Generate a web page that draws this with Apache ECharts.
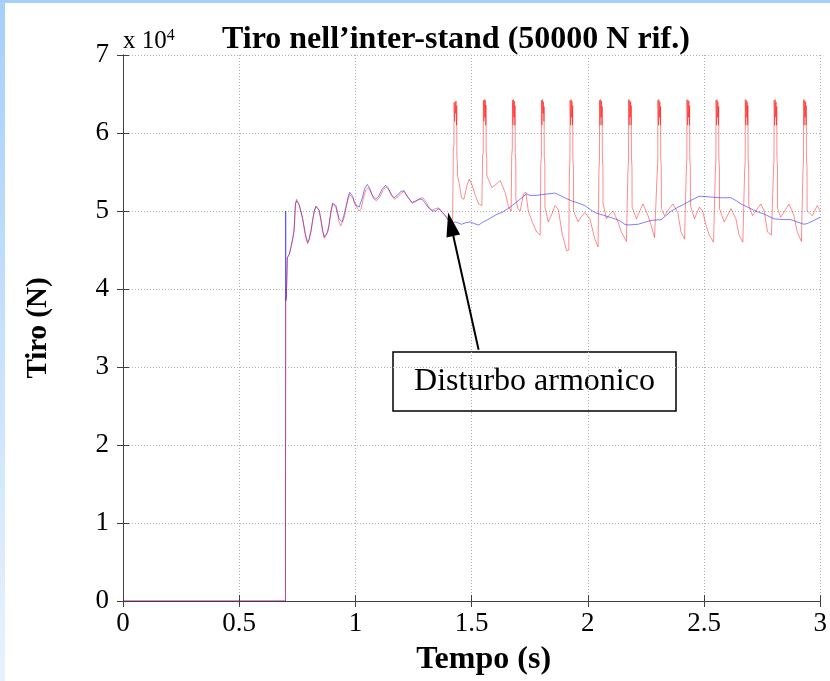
<!DOCTYPE html>
<html>
<head>
<meta charset="utf-8">
<script src="https://cdn.jsdelivr.net/npm/echarts@6/dist/echarts.min.js"></script>
<style>
html,body{margin:0;padding:0;background:#fff;}
#chart{width:830px;height:681px;}
</style>
</head>
<body>
<div id="chart"></div>
<script>
// ---- Data (time in s, tension in N) ----
const titolo = "Tiro nell\u2019inter-stand (50000 N rif.)";
const xTicks = [0, 0.5, 1, 1.5, 2, 2.5, 3];
const yTicks = [0, 10000, 20000, 30000, 40000, 50000, 60000, 70000];
const annotazione = "Disturbo armonico";
const frecciaDa = [1.530, 32200];   // arrow tail (t, N)
const frecciaA = [1.410, 48300];    // arrow tip (t, N)

// blue trace (reference, no disturbance)
const serieBlu = [
[0,0],[0.699,0],[0.700,50000],[0.7005,38500],[0.703,39000],[0.707,44000],[0.716,44500],[0.723,45400],[0.730,46400],[0.736,47500],[0.742,50900],[0.747,51300],[0.752,51300],[0.758,50800],[0.765,50000],[0.773,49000],[0.784,47100],[0.794,46000],[0.800,46300],[0.809,47500],[0.816,48800],[0.823,50000],[0.830,50600],[0.837,50700],[0.844,50100],[0.852,48800],[0.859,47500],[0.866,46700],[0.873,46800],[0.880,47300],[0.887,48300],[0.894,49800],[0.902,51000],[0.909,51200],[0.916,50700],[0.923,49800],[0.930,49000],[0.943,48600],[0.950,49400],[0.959,50500],[0.968,51700],[0.975,52400],[0.980,52500],[0.988,51900],[0.995,51100],[1.005,50700],[1.016,50500],[1.030,51700],[1.040,52900],[1.051,53400],[1.060,53000],[1.073,52000],[1.088,51500],[1.100,51900],[1.115,52800],[1.130,53300],[1.140,53000],[1.153,52200],[1.166,51700],[1.180,52000],[1.195,52500],[1.209,52600],[1.225,51800],[1.244,51100],[1.260,51300],[1.275,51500],[1.287,51500],[1.300,51000],[1.315,50400],[1.330,50000],[1.345,50000],[1.359,50300],[1.373,49800],[1.387,49400],[1.400,48800],[1.409,48300],[1.416,48300],[1.430,48600],[1.440,48500],[1.456,48300],[1.475,48500],[1.494,48600],[1.510,48400],[1.530,48200],[1.550,48600],[1.570,48900],[1.587,49200],[1.610,49600],[1.630,49800],[1.666,50500],[1.700,51300],[1.720,51800],[1.737,52200],[1.750,52000],[1.780,52000],[1.800,52100],[1.830,52200],[1.859,52300],[1.880,52000],[1.900,51700],[1.930,51300],[1.960,51000],[1.987,50700],[2.010,50200],[2.030,49800],[2.073,49400],[2.116,49000],[2.140,48700],[2.159,48300],[2.173,48200],[2.216,48300],[2.250,48600],[2.273,48800],[2.316,48900],[2.340,49500],[2.359,50000],[2.390,50500],[2.416,50900],[2.440,51300],[2.459,51600],[2.480,51900],[2.523,51800],[2.570,51700],[2.616,51700],[2.640,51300],[2.659,50900],[2.680,50600],[2.701,50300],[2.730,49900],[2.759,49600],[2.780,49300],[2.801,49000],[2.840,48900],[2.873,48900],[2.900,48600],[2.930,48300],[2.945,48400],[2.959,48600],[2.980,48900],[3.000,49200]
];

// red trace (with harmonic disturbance)
const serieRossa = [
[0,0],[0.699,0],[0.700,38500],[0.703,39000],[0.707,44000],[0.716,44500],[0.723,45400],[0.730,46400],[0.736,47500],[0.742,50900],[0.747,51500],[0.752,51300],[0.758,50800],[0.765,50000],[0.773,49000],[0.784,47000],[0.794,45800],[0.800,46200],[0.809,47400],[0.816,48800],[0.823,50000],[0.830,50600],[0.837,50800],[0.844,50100],[0.852,48800],[0.859,47400],[0.866,46500],[0.873,46700],[0.880,47200],[0.887,48200],[0.894,49700],[0.902,50900],[0.909,51100],[0.916,50500],[0.923,49600],[0.930,48600],[0.937,48100],[0.945,48300],[0.952,49200],[0.959,50300],[0.968,51500],[0.975,52100],[0.980,52200],[0.990,51600],[1.000,50800],[1.016,50000],[1.025,50300],[1.035,51800],[1.045,52700],[1.055,53000],[1.065,52500],[1.078,51600],[1.090,51300],[1.103,51700],[1.118,52600],[1.130,53100],[1.142,52800],[1.155,52000],[1.168,51500],[1.182,51800],[1.197,52300],[1.209,52500],[1.225,51800],[1.244,51000],[1.260,51200],[1.275,51600],[1.290,51700],[1.305,51100],[1.318,50400],[1.330,50100],[1.345,50300],[1.359,50400],[1.373,49900],[1.387,49400],[1.400,48900],[1.409,48500],[1.418,48300],
[1.421,48500],[1.4215,58000],[1.424,58500],[1.4245,63900],[1.427,61500],[1.429,64000],[1.431,62500],[1.433,64100],[1.435,61000],[1.436,63500],[1.4365,57000],[1.439,56000],[1.4395,54500],[1.447,53500],[1.456,51700],[1.467,51500],[1.480,53300],[1.490,54100],[1.501,53400],[1.516,52000],[1.530,50900],[1.544,50700],
[1.547,50700],[1.5475,57100],[1.550,57500],[1.5505,64200],[1.553,61500],[1.555,64300],[1.557,62000],[1.559,64200],[1.561,61000],[1.562,63600],[1.5625,57500],[1.565,57000],[1.5655,54500],[1.573,54000],[1.587,53000],[1.604,53400],[1.623,53900],[1.644,52400],[1.659,50500],[1.670,50000],
[1.672,50000],[1.6725,57000],[1.675,58000],[1.6755,64200],[1.678,61000],[1.680,64300],[1.682,62000],[1.684,64100],[1.686,61000],[1.687,63500],[1.6875,57500],[1.690,56500],[1.6905,51500],[1.699,50300],[1.709,50000],[1.723,52200],[1.733,52400],[1.744,50000],[1.761,48600],[1.780,47300],[1.795,46900],
[1.797,46900],[1.7975,56000],[1.800,57000],[1.8005,64200],[1.803,61000],[1.805,64300],[1.807,62500],[1.809,64000],[1.811,61500],[1.812,63400],[1.8125,57000],[1.815,56000],[1.8155,50500],[1.830,48600],[1.844,49500],[1.859,50700],[1.873,50200],[1.890,47000],[1.909,44900],[1.918,45000],
[1.920,45000],[1.9205,55000],[1.923,56500],[1.9235,64200],[1.926,61000],[1.928,64300],[1.930,62000],[1.932,64100],[1.934,61000],[1.935,63500],[1.9355,57000],[1.938,55500],[1.9385,50000],[1.958,48600],[1.973,49300],[1.987,49800],[2.009,49000],[2.030,46400],[2.044,45400],
[2.047,45400],[2.0475,55000],[2.050,56500],[2.0505,64200],[2.053,61000],[2.055,64300],[2.057,62000],[2.059,64100],[2.061,61000],[2.062,63400],[2.0625,57000],[2.065,55500],[2.0655,51000],[2.080,49000],[2.095,49600],[2.109,50000],[2.130,48600],[2.144,47300],[2.166,46100],[2.170,46200],
[2.172,46200],[2.1725,55000],[2.175,56500],[2.1755,64300],[2.178,61000],[2.180,64200],[2.182,62000],[2.184,64000],[2.186,61000],[2.187,63500],[2.1875,57000],[2.190,55500],[2.1905,50500],[2.209,49000],[2.237,50900],[2.259,49400],[2.273,48100],[2.287,46600],[2.295,46400],
[2.298,46400],[2.2985,55000],[2.301,56500],[2.3015,64200],[2.304,61000],[2.306,64300],[2.308,62000],[2.310,64000],[2.312,61000],[2.313,63400],[2.3135,57000],[2.316,55500],[2.3165,50300],[2.330,49400],[2.350,50300],[2.366,50900],[2.387,49800],[2.401,47300],[2.416,46400],[2.421,46500],
[2.423,46500],[2.4235,55000],[2.426,56500],[2.4265,64300],[2.429,61000],[2.431,64200],[2.433,62000],[2.435,64100],[2.437,61000],[2.438,63500],[2.4385,57000],[2.441,55500],[2.4415,50700],[2.459,49000],[2.480,50500],[2.494,50000],[2.509,48100],[2.523,46900],[2.541,46000],[2.546,46100],
[2.548,46100],[2.5485,55000],[2.551,56500],[2.5515,64200],[2.554,61000],[2.556,64300],[2.558,62000],[2.560,64000],[2.562,61000],[2.563,63400],[2.5635,57000],[2.566,55500],[2.5665,50300],[2.587,48600],[2.616,50300],[2.637,49000],[2.651,46900],[2.667,46000],[2.672,46100],
[2.674,46100],[2.6745,55000],[2.677,56500],[2.6775,64300],[2.680,61000],[2.682,64200],[2.684,62000],[2.686,64000],[2.688,61000],[2.689,63500],[2.6895,57000],[2.692,55500],[2.6925,50700],[2.709,49400],[2.744,50900],[2.759,50000],[2.773,47300],[2.790,46900],[2.796,47000],
[2.798,47000],[2.7985,55000],[2.801,56500],[2.8015,64200],[2.804,61000],[2.806,64300],[2.808,62000],[2.810,64000],[2.812,61000],[2.813,63400],[2.8135,57000],[2.816,55500],[2.8165,50300],[2.830,49200],[2.866,50900],[2.887,49400],[2.901,47300],[2.919,46100],[2.923,46200],
[2.925,46200],[2.9255,55000],[2.928,56500],[2.9285,64300],[2.931,61000],[2.933,64200],[2.935,62000],[2.937,64000],[2.939,61000],[2.940,63500],[2.9405,57000],[2.943,55500],[2.9435,50000],[2.966,49400],[2.987,50700],[3.000,50000]
];

// ---- Chart ----
const serif = "'Liberation Serif', 'Times New Roman', serif";
const chart = echarts.init(document.getElementById('chart'), null, {renderer: 'canvas'});
const gridLine = {show: true, lineStyle: {color: '#b0b0b0', width: 1, type: [1, 2]}};
const axisLineStyle = {show: true, lineStyle: {color: '#404040', width: 1}};

chart.setOption({
  animation: false,
  backgroundColor: '#ffffff',
  title: {
    text: titolo,
    left: 222,
    top: 24,
    padding: 0,
    textStyle: {fontFamily: serif, fontWeight: 'bold', fontSize: 32, color: '#000'}
  },
  grid: {left: 123, right: 7, top: 55, bottom: 77, containLabel: false},
  xAxis: [{
    type: 'value', min: xTicks[0], max: xTicks[xTicks.length - 1], interval: 0.5,
    name: 'Tempo (s)', nameLocation: 'middle', nameGap: 43,
    nameTextStyle: {fontFamily: serif, fontWeight: 'bold', fontSize: 32, color: '#000', padding: [0, 0, 0, 24]},
    axisLine: axisLineStyle,
    axisTick: {show: true, inside: true, length: 6, lineStyle: {color: '#404040'}},
    axisLabel: {fontFamily: serif, fontSize: 27, color: '#000', margin: 9,
      formatter: v => String(v)},
    splitLine: gridLine
  }, {
    type: 'value', position: 'top', min: 0, max: 3, interval: 0.5,
    axisLine: axisLineStyle,
    axisTick: {show: true, inside: true, length: 6, lineStyle: {color: '#404040'}},
    axisLabel: {show: false}, splitLine: {show: false}
  }],
  yAxis: [{
    type: 'value', min: yTicks[0], max: yTicks[yTicks.length - 1], interval: 10000,
    name: 'Tiro (N)', nameLocation: 'middle', nameGap: 70,
    nameTextStyle: {fontFamily: serif, fontWeight: 'bold', fontSize: 29, color: '#000'},
    axisLine: axisLineStyle,
    axisTick: {show: true, inside: true, length: 6, lineStyle: {color: '#404040'}},
    axisLabel: {fontFamily: serif, fontSize: 27, color: '#000', margin: 14,
      formatter: v => String(v / 10000)},
    splitLine: gridLine
  }, {
    type: 'value', position: 'right', min: 0, max: 70000, interval: 10000,
    axisLine: axisLineStyle,
    axisTick: {show: true, inside: true, length: 6, lineStyle: {color: '#404040'}},
    axisLabel: {show: false}, splitLine: {show: false}
  }],
  series: [{
    name: 'blu', type: 'line', data: serieBlu, showSymbol: false, symbol: 'none',
    lineStyle: {color: '#0000ff', width: 1, opacity: 0.5}, itemStyle: {color: '#0000ff'},
    z: 3
  }, {
    name: 'rosso', type: 'line', data: serieRossa, showSymbol: false, symbol: 'none',
    lineStyle: {color: '#ff0000', width: 1, opacity: 0.45}, itemStyle: {color: '#ff0000'},
    z: 4,
    markLine: {
      silent: true, animation: false,
      symbol: ['none', 'triangle'], symbolSize: [14, 24],
      label: {show: false},
      lineStyle: {color: '#000', width: 2, type: 'solid', opacity: 1},
      itemStyle: {color: '#000'},
      data: [[{coord: frecciaDa}, {coord: frecciaA}]]
    }
  }],
  graphic: [
    {type: 'rect', shape: {x: 0, y: 0, width: 830, height: 3}, style: {fill: '#a6cffd'}, silent: true, z: 100},
    {type: 'rect', shape: {x: 0, y: 0, width: 5, height: 681}, silent: true, z: 100,
      style: {fill: new echarts.graphic.LinearGradient(0, 0, 0, 1, [{offset: 0, color: '#a6cffd'}, {offset: 1, color: '#e8f2fd'}])}},
    {type: 'text', x: 123, y: 28, z: 50, style: {
      text: '{a|x 10}{b|4}', fill: '#000',
      rich: {a: {fontFamily: serif, fontSize: 25, verticalAlign: 'bottom', lineHeight: 26},
             b: {fontFamily: serif, fontSize: 16, verticalAlign: 'top', lineHeight: 26, padding: [0, 0, 12, 0]}}
    }},
    {type: 'group', z: 60, children: [
      {type: 'rect', shape: {x: 393, y: 352, width: 283, height: 59}, style: {fill: '#fff', stroke: '#000', lineWidth: 1.5}},
      {type: 'text', x: 534.5, y: 382, style: {text: annotazione, fontFamily: serif, fontSize: 32, fill: '#000', textAlign: 'center', textVerticalAlign: 'middle'}}
    ]}
  ]
});
</script>
</body>
</html>
